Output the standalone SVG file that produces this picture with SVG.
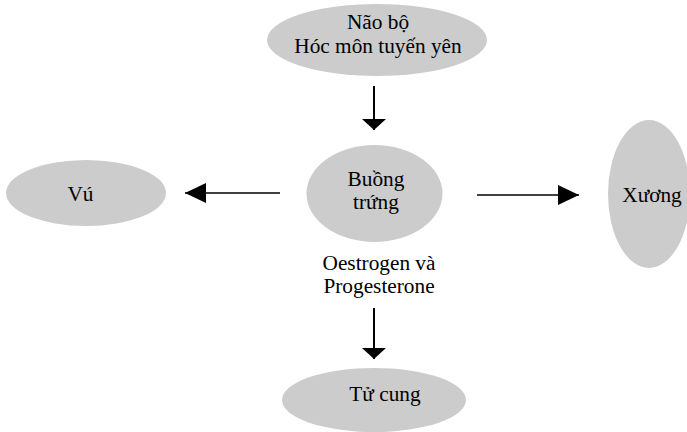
<svg xmlns="http://www.w3.org/2000/svg" width="687" height="432" viewBox="0 0 687 432">
<style>
.n{fill:#cccccc;stroke:none}
text{font-family:"Liberation Serif","Times New Roman",serif;font-size:21.3px;fill:#000;text-anchor:middle}
.h{stroke:#000;stroke-width:1.5;fill:none}
.v{stroke:#000;stroke-width:2;fill:none}
</style>
<defs>
<marker id="ahh" viewBox="0 0 21 20" refX="21" refY="10" markerWidth="21" markerHeight="20" markerUnits="userSpaceOnUse" orient="auto">
<path d="M0,0 L21,10 L0,20 Z" fill="#000"/>
</marker>
<marker id="ahv" viewBox="0 0 11 24" refX="11" refY="12" markerWidth="11" markerHeight="24" markerUnits="userSpaceOnUse" orient="auto">
<path d="M0,0 L11,12 L0,24 Z" fill="#000"/>
</marker>
</defs>
<rect width="687" height="432" fill="#fff"/>
<g id="connectors">
<line class="v" x1="374" y1="86" x2="374" y2="130" marker-end="url(#ahv)"/>
<line class="h" x1="280" y1="193" x2="185" y2="193" marker-end="url(#ahh)"/>
<line class="h" x1="477" y1="195" x2="579" y2="195" marker-end="url(#ahh)"/>
<line class="v" x1="374" y1="308" x2="374" y2="359" marker-end="url(#ahv)"/>
</g>
<g id="nao-bo">
<ellipse class="n" cx="377" cy="40" rx="110" ry="36"/>
<text x="378" y="29">Não bộ</text>
<text x="378" y="53">Hóc môn tuyến yên</text>
</g>
<g id="buong-trung">
<ellipse class="n" cx="374.5" cy="193.5" rx="68" ry="48.5"/>
<text x="376" y="186">Buồng</text>
<text x="376" y="209">trứng</text>
</g>
<g id="hormone-label">
<text x="379" y="270">Oestrogen và</text>
<text x="379" y="293">Progesterone</text>
</g>
<g id="vu">
<ellipse class="n" cx="86" cy="193" rx="80" ry="33"/>
<text x="80.5" y="201">Vú</text>
</g>
<g id="xuong">
<ellipse class="n" cx="649" cy="194" rx="41" ry="74"/>
<text x="652" y="202">Xương</text>
</g>
<g id="tu-cung">
<ellipse class="n" cx="374" cy="400" rx="92" ry="32"/>
<text x="385" y="401">Tử cung</text>
</g>
</svg>
